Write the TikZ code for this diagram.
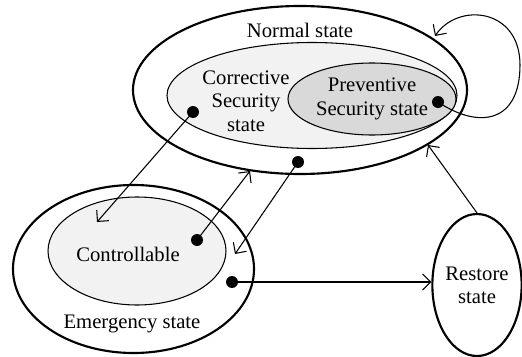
\documentclass[tikz,border=0pt]{standalone}
\usepackage{fontspec}
\setmainfont{Liberation Serif}
\usepackage{tikz}
\usetikzlibrary{arrows.meta, shapes.geometric}

\tikzset{
  region/.style={draw, ellipse, line width=1.6pt, inner sep=0pt},
  subregion/.style={draw, ellipse, line width=0.8pt, inner sep=0pt},
  dot/.style={circle, fill=black, inner sep=0pt, minimum size=9pt},
  link/.style={-{Straight Barb[length=6pt,width=12pt]}, line width=0.8pt},
}

\begin{document}
\begin{tikzpicture}[x=0.75pt, y=-0.75pt, every node/.style={font=\fontsize{15.5}{17.5}\selectfont}]
    \useasboundingbox (0,0) rectangle (522,357);

    % states
    \node[region, minimum width=250.5pt, minimum height=126pt] (normal) at (300,90) {};
    \node[subregion, fill=gray!10, minimum width=217.5pt, minimum height=79.5pt] (corrective) at (312,95.5) {};
    \node[subregion, fill=gray!30, minimum width=126pt, minimum height=54pt, align=center] (preventive) at (372,99) {Preventive\\Security state};
    \node[region, minimum width=180.75pt, minimum height=126pt] (emergency) at (133.5,269) {};
    \node[subregion, fill=gray!10, minimum width=133.5pt, minimum height=81pt] (controllable) at (137,251) {};
    \node[region, minimum width=66pt, minimum height=106.5pt, align=center] (restore) at (477,285) {Restore\\state};

    \node (normalText) at (300,30) {Normal state};
    \node[align=center] (correctiveText) at (246,101) {Corrective\\Security\\state};
    \node (controllableText) at (128,254) {Controllable};
    \node (emergencyText) at (132,324) {Emergency state};

    % transitions
    \node[dot] (dCorr) at (193,112) {};
    \node[dot] (dCtrl) at (197,240) {};
    \node[dot] (dNorm) at (298,162) {};
    \node[dot] (dEmer) at (232,282) {};
    \node[dot] (dPrev) at (438,102) {};

    \coordinate (ctrlIn) at (97,222);
    \coordinate (normBottom) at (250,171);
    \coordinate (emerIn) at (235,254);
    \coordinate (normRight) at (428,145);
    \coordinate (normTop) at (435,36);

    \draw[link] (dCorr.center) -- (ctrlIn);
    \draw[link] (dCtrl.center) -- (normBottom);
    \draw[link] (dNorm.center) -- (emerIn);
    \draw[link] (dEmer.center) -- (dEmer -| restore.west);
    \draw[link] (restore.north) -- (normRight);
    \draw[link] (dPrev.center) .. controls (480,130) and (520,122) .. (520,65)
        .. controls (520,8) and (458,2) .. (normTop);
\end{tikzpicture}
\end{document}
